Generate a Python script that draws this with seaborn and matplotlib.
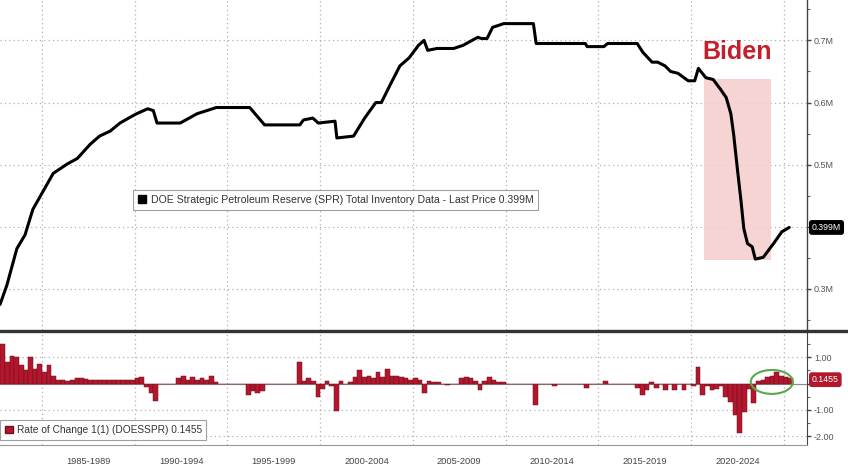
import numpy as np
import pandas as pd
import matplotlib
matplotlib.use("Agg")
import matplotlib.pyplot as plt
import matplotlib.transforms as mtransforms
from matplotlib.patches import Patch, Rectangle, Ellipse
from matplotlib.lines import Line2D
import seaborn as sns

# --- data ---
# SPR total inventory (shown as "M" on the axis), year as decimal
spr_year = [1982.73, 1983.10, 1983.64, 1984.08, 1984.50, 1985.05, 1985.60, 1986.35,
            1986.90, 1987.60, 1988.10, 1988.67, 1989.20, 1989.85, 1990.10, 1990.70,
            1991.00, 1991.20, 1992.45, 1993.36, 1994.40, 1996.20, 1997.00, 1998.90,
            1999.10, 1999.60, 1999.90, 2000.80, 2000.90, 2001.80, 2002.40, 2003.00,
            2003.30, 2003.80, 2004.30, 2004.80, 2005.30, 2005.60, 2005.80, 2006.30,
            2007.20, 2007.70, 2008.50, 2008.70, 2009.00, 2009.30, 2009.90, 2011.50,
            2011.65, 2014.30, 2014.40, 2015.30, 2015.50, 2017.10, 2017.40, 2017.90,
            2018.20, 2018.60, 2018.90, 2019.30, 2019.85, 2020.20, 2020.40, 2020.80,
            2021.20, 2021.60, 2021.90, 2022.15, 2022.30, 2022.50, 2022.70, 2022.85,
            2023.05, 2023.30, 2023.47, 2023.90, 2024.45, 2024.90, 2025.30]
spr_inv = [0.275, 0.306, 0.365, 0.387, 0.428, 0.457, 0.486, 0.501,
           0.510, 0.533, 0.546, 0.554, 0.567, 0.578, 0.582, 0.590,
           0.587, 0.567, 0.567, 0.582, 0.592, 0.592, 0.564, 0.564,
           0.572, 0.575, 0.567, 0.570, 0.543, 0.546, 0.575, 0.600,
           0.600, 0.630, 0.659, 0.672, 0.692, 0.700, 0.684, 0.687,
           0.687, 0.692, 0.705, 0.703, 0.703, 0.721, 0.727, 0.727,
           0.695, 0.695, 0.690, 0.690, 0.695, 0.695, 0.681, 0.665,
           0.665, 0.659, 0.650, 0.647, 0.635, 0.635, 0.655, 0.640,
           0.637, 0.621, 0.608, 0.582, 0.549, 0.494, 0.441, 0.397,
           0.373, 0.368, 0.348, 0.351, 0.373, 0.392, 0.399]
last_price = 0.399

# rate of change (%), one value per quarter starting 1982 Q4
roc_start = 1982.75
roc_values = [
    1.50,                       # 1982 Q4
    0.80, 1.05, 1.00, 0.70,     # 1983
    0.50, 1.00, 0.55, 0.75,     # 1984
    0.45, 0.70, 0.30, 0.15,     # 1985
    0.12, 0.10, 0.15, 0.20,     # 1986
    0.20, 0.18, 0.15, 0.15,     # 1987
    0.12, 0.15, 0.12, 0.15,     # 1988
    0.12, 0.15, 0.12, 0.15,     # 1989
    0.20, 0.25, -0.15, -0.35,   # 1990
    -0.65, 0.0, 0.0, 0.0,       # 1991
    0.0, 0.20, 0.30, 0.15,      # 1992
    0.25, 0.12, 0.20, 0.15,     # 1993
    0.30, 0.05, 0.0, 0.0,       # 1994
    0.0, 0.0, 0.0, 0.0,         # 1995
    -0.44, -0.30, -0.35, -0.30, # 1996
    0.0, 0.0, 0.0, 0.0,         # 1997
    0.0, 0.0, 0.0, 0.82,        # 1998
    0.10, 0.20, 0.10, -0.50,    # 1999
    -0.20, 0.10, -0.10, -1.05,  # 2000
    0.10, 0.0, 0.05, 0.25,      # 2001
    0.50, 0.25, 0.30, 0.20,     # 2002
    0.45, 0.25, 0.57, 0.30,     # 2003
    0.30, 0.25, 0.20, 0.15,     # 2004
    0.20, 0.15, -0.38, 0.10,    # 2005
    0.05, 0.05, 0.0, -0.05,     # 2006
    0.0, 0.0, 0.20, 0.25,       # 2007
    0.20, 0.10, -0.25, 0.10,    # 2008
    0.25, 0.15, 0.05, 0.05,     # 2009
    0.0, 0.0, 0.0, 0.0,         # 2010
    0.0, 0.0, -0.82, 0.0,       # 2011
    0.0, 0.0, -0.10, 0.0,       # 2012
    0.0, 0.0, 0.0, 0.0,         # 2013
    0.0, -0.19, 0.0, 0.0,       # 2014
    0.0, 0.10, 0.0, 0.0,        # 2015
    0.0, 0.0, 0.0, 0.0,         # 2016
    -0.19, -0.44, -0.25, 0.05,  # 2017
    -0.19, 0.0, -0.25, 0.0,     # 2018
    -0.25, 0.0, -0.25, 0.0,     # 2019
    -0.10, 0.63, -0.44, -0.10,  # 2020
    -0.25, -0.20, -0.10, -0.50, # 2021
    -0.70, -1.20, -1.90, -1.08, # 2022
    -0.20, -0.76, 0.10, 0.15,   # 2023
    0.25, 0.30, 0.44, 0.30,     # 2024
    0.25, 0.20,                 # 2025
]
roc_last = 0.1455

period_starts = [1985, 1990, 1995, 2000, 2005, 2010, 2015, 2020]
period_labels = ["1985-1989", "1990-1994", "1995-1999", "2000-2004",
                 "2005-2009", "2010-2014", "2015-2019", "2020-2024"]

biden_years = (2020.7, 2024.3)
biden_range = (0.347, 0.638)

# --- style ---
sns.set_style("white")
plt.rcParams['font.family'] = ['Liberation Sans', 'DejaVu Sans']

grid_kw = dict(ls=(0, (1, 2.5)), color='#b0b0b0', lw=0.9)
lab_col = '#555555'
red = '#b3172d'

fig = plt.figure(figsize=(8.48, 4.69), dpi=100)
ax = fig.add_axes([0, 0.2964, 0.9517, 0.7036])
ax2 = fig.add_axes([0, 0.0512, 0.9517, 0.2409])
xlim = (1982.73, 2026.26)

# 1. top panel: inventory line
df = pd.DataFrame({'year': spr_year, 'inv': spr_inv})
sns.lineplot(data=df, x='year', y='inv', ax=ax, color='black', lw=2.2,
             sort=False, estimator=None, zorder=3)
ax.set_xlim(*xlim)
ax.set_ylim(0.234, 0.765)
ax.set_xlabel('')
ax.set_ylabel('')
ax.set_xticks(range(1985, 2026, 5))
ax.tick_params(axis='x', length=0, labelbottom=False)
ax.yaxis.tick_right()
yt = [0.3, 0.4, 0.5, 0.6, 0.7]
ax.set_yticks(yt)
# the 0.4M label sits under the last-price box
ax.set_yticklabels(['' if v == 0.4 else f"{v:.1f}M" for v in yt])
ax.set_yticks(np.arange(0.25, 0.76, 0.05), minor=True)
ax.tick_params(axis='y', which='major', length=3, width=1, color='#444',
               labelsize=6.5, labelcolor=lab_col, pad=2)
ax.tick_params(axis='y', which='minor', length=2, width=0.8, color='#666')
ax.grid(True, **grid_kw)
for s in ['top', 'left', 'bottom']:
    ax.spines[s].set_visible(False)
ax.spines['right'].set_color('#444')
ax.spines['right'].set_linewidth(1)

ax.add_patch(Rectangle((biden_years[0], biden_range[0]),
                       biden_years[1] - biden_years[0],
                       biden_range[1] - biden_range[0],
                       facecolor='#f5cdcd', edgecolor='none', alpha=0.85, zorder=1))
ax.text(sum(biden_years) / 2, 0.682, "Biden", color='#c3202c', fontsize=18,
        fontweight='bold', ha='center', va='center', zorder=4)

leg = ax.legend(handles=[Patch(facecolor='black', edgecolor='black')],
                labels=["DOE Strategic Petroleum Reserve (SPR) Total Inventory Data - Last Price 0.399M"],
                loc='center left', bbox_to_anchor=(0.165, 0.394), fontsize=7.6,
                frameon=True, fancybox=False, handlelength=0.8, handleheight=0.8,
                handletextpad=0.4, borderpad=0.45, borderaxespad=0, labelcolor='#333')
leg.get_frame().set_edgecolor('#888')
leg.get_frame().set_linewidth(0.8)

blend = mtransforms.blended_transform_factory(ax.transAxes, ax.transData)
ax.text(1.006, last_price, f"{last_price:.3f}M", transform=blend, ha='left', va='center',
        color='white', fontsize=6.3,
        bbox=dict(boxstyle='round,pad=0.25', fc='black', ec='black'))

# 2. bottom panel: rate of change bars
roc_x = roc_start + 0.25 * np.arange(len(roc_values))
ax2.bar(roc_x, roc_values, width=0.25, align='edge', color=red,
        edgecolor='#6e0f1c', lw=0.35, zorder=3)
ax2.axhline(0, color='#8a8a8a', lw=0.8, zorder=2)
ax2.set_xlim(*xlim)
ax2.set_ylim(-2.34, 1.96)
ax2.yaxis.tick_right()
ax2.set_yticks([-2, -1, 0, 1])
ax2.set_yticklabels(['-2.00', '-1.00', '', '1.00'])
ax2.set_yticks(np.arange(-2.0, 2.0, 0.5), minor=True)
ax2.tick_params(axis='y', which='major', length=3, width=1, color='#444',
                labelsize=6.5, labelcolor=lab_col, pad=2)
ax2.tick_params(axis='y', which='minor', length=2, width=0.8, color='#666')
ax2.set_xticks(range(1985, 2026, 5))
ax2.set_xticks(range(1983, 2027), minor=True)
ax2.tick_params(axis='x', which='major', length=17.3, width=0.9, color='#aaaaaa',
                labelbottom=False)
ax2.tick_params(axis='x', which='minor', length=2.5, width=0.8, color='#888888')
ax2.grid(True, **grid_kw)
for s in ['top', 'left']:
    ax2.spines[s].set_visible(False)
ax2.spines['right'].set_color('#444')
ax2.spines['bottom'].set_color('#999')
ax2.spines['bottom'].set_linewidth(0.8)

tb = mtransforms.blended_transform_factory(ax2.transData, ax2.transAxes)
for start, lab in zip(period_starts, period_labels):
    ax2.text(start + 2.5, -0.142, lab, transform=tb, ha='center', va='center',
             fontsize=6.7, color='#444', clip_on=False)

ax2.add_patch(Ellipse((2024.36, 0.06), 2.27, 0.91, fill=False,
                      edgecolor='#5aa84a', lw=1.5, zorder=5))

leg2 = ax2.legend(handles=[Patch(facecolor=red, edgecolor='#6e0f1c')],
                  labels=["Rate of Change 1(1) (DOESSPR) 0.1455"],
                  loc='center left', bbox_to_anchor=(0.0, 0.133), fontsize=7.3,
                  frameon=True, fancybox=False, handlelength=0.8, handleheight=0.8,
                  handletextpad=0.4, borderpad=0.45, borderaxespad=0, labelcolor='#333')
leg2.get_frame().set_edgecolor('#888')
leg2.get_frame().set_linewidth(0.8)

blend2 = mtransforms.blended_transform_factory(ax2.transAxes, ax2.transData)
ax2.text(1.006, roc_last, f"{roc_last:.4f}", transform=blend2, ha='left', va='center',
         color='white', fontsize=6.3,
         bbox=dict(boxstyle='round,pad=0.25', fc=red, ec=red))

# separator between panels
fig.add_artist(Line2D([0, 1], [0.2942, 0.2942], transform=fig.transFigure,
                      color='#333333', lw=2.4))

fig.savefig('out.png', dpi=100)
